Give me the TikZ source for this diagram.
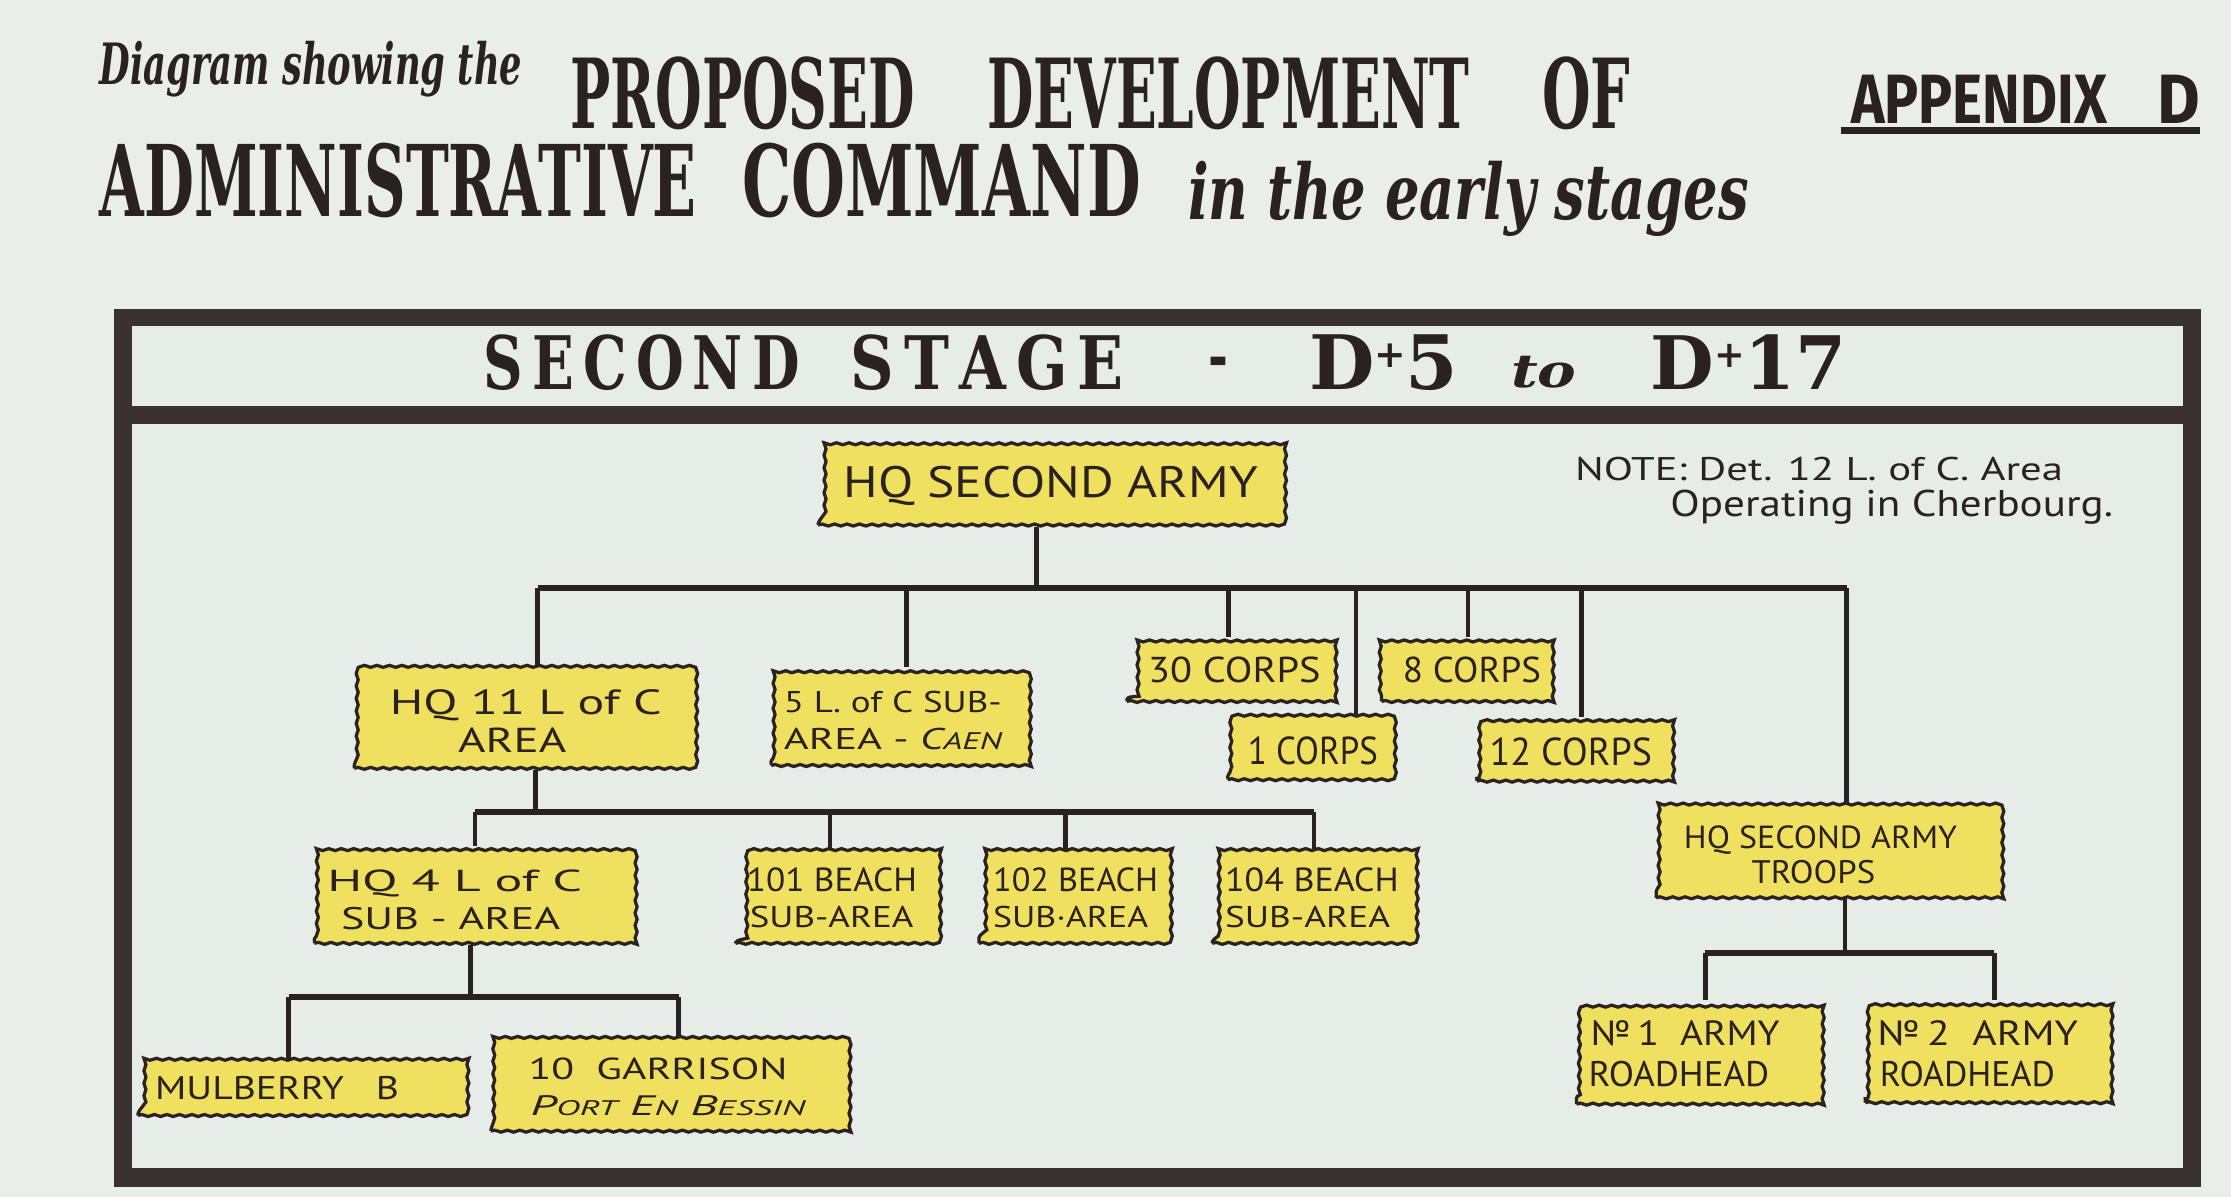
\documentclass[tikz,border=0pt]{standalone}
\usepackage{fontspec}
\usepackage{graphicx}
\usetikzlibrary{decorations.pathmorphing}
\setmainfont{DejaVu Serif}
\newfontfamily\slabf{DejaVu Serif}
\newfontfamily\handf{PT Sans}
\newfontfamily\apxf{Fira Sans}
\newlength{\pxu}
\setlength{\pxu}{0.02cm}
\newcommand{\fitt}[3]{\resizebox{#1\pxu}{#2\pxu}{#3}}
\definecolor{pagebg}{HTML}{EAEEE8}
\definecolor{innerbg}{HTML}{E6ECE8}
\definecolor{framec}{HTML}{3A3230}
\definecolor{inkc}{HTML}{2A2220}
\definecolor{yelc}{HTML}{F0E060}
\definecolor{boxline}{HTML}{2B2320}
\begin{document}
\begin{tikzpicture}[x=0.02cm,y=-0.02cm,
  txt/.style={inner sep=0pt, outer sep=0pt, text=inkc},
  bt/.style={txt, anchor=base, font=\handf},
  tt/.style={txt, anchor=base west},
  ybox/.style={draw=boxline, fill=yelc, line width=1.3pt, inner sep=0pt,
    decorate, decoration={snake, amplitude=0.4pt, segment length=5pt}},
  sz/.style 2 args={minimum width=#1*0.02cm, minimum height=#2*0.02cm},
  link/.style={draw=inkc, line width=1.9pt},
  busl/.style={draw=inkc, line width=2.4pt},
]
% page and frame
\fill[pagebg] (0,0) rectangle (1568,841);
\useasboundingbox (0,0) rectangle (1568,841);
\fill[framec] (80,217) rectangle (1547,834);
\fill[innerbg] (93,229) rectangle (1534,285);
\fill[innerbg] (93,298) rectangle (1534,821);

% heading
\node[tt] (tDiag) at (70,59.7) {\fitt{297}{30.4}{\slabf\bfseries\itshape Diagram showing the}};
\node[tt] (tProp) at (401,90.2) {\fitt{242}{50.4}{\slabf\bfseries PROPOSED}};
\node[tt] (tDev) at (694,90.2) {\fitt{339}{50.4}{\slabf\bfseries DEVELOPMENT}};
\node[tt] (tOf) at (1084,90.2) {\fitt{62}{50.4}{\slabf\bfseries OF}};
\node[tt] (tAdm) at (70,152.3) {\fitt{419.5}{51.6}{\slabf\bfseries ADMINISTRATIVE}};
\node[tt] (tCom) at (521.7,152.3) {\fitt{280}{51.6}{\slabf\bfseries COMMAND}};
\node[tt] (tEarly) at (835,154.6) {\fitt{394}{41}{\slabf\bfseries\itshape in the early stages}};
\node[tt] (tApp) at (1301,86.7) {\fitt{180}{34}{\apxf\bfseries APPENDIX}};
\node[tt] (tAppD) at (1516,86.7) {\fitt{30}{34}{\apxf\bfseries D}};
\coordinate (ulA) at (1294,92);
\coordinate (ulB) at (1546,92);
\draw[inkc, line width=2.8pt] (ulA) -- (ulB);

% band title
\node[txt, anchor=base] (sSec) at (451,274) {\fitt{222}{38.5}{\slabf\bfseries S\,E\,C\,O\,N\,D}};
\node[txt, anchor=base] (sSta) at (694,274) {\fitt{192}{38.5}{\slabf\bfseries S\,T\,A\,G\,E}};
\node[txt, anchor=base] (sDash) at (856,266) {\fitt{14}{15}{\slabf\bfseries -}};
\node[txt, anchor=base] (sD5) at (972.5,274) {\fitt{105}{38.5}{\slabf\bfseries D\raisebox{.3em}{\scalebox{.5}{+}}5}};
\node[txt, anchor=base] (sTo) at (1085,272) {\fitt{46}{22}{\slabf\bfseries\itshape to}};
\node[txt, anchor=base] (sD17) at (1229,274) {\fitt{138}{38.5}{\slabf\bfseries D\raisebox{.3em}{\scalebox{.5}{+}}17}};

% note
\node[tt] (nte1) at (1107,337.4) {\fitt{343}{16.4}{\handf NOTE: Det. 12 L. of C. Area}};
\node[tt] (nte2) at (1174,363) {\fitt{311}{18.6}{\handf Operating in Cherbourg.}};

% boxes
\node[ybox, sz={325}{56}] (hq) at (737.5,341) {};
\node[ybox, sz={237}{70}] (hq11) at (367.5,505) {};
\node[ybox, sz={179}{68}] (sub5) at (631.5,504) {};
\node[ybox, sz={144}{44}] (c30) at (864,471) {};
\node[ybox, sz={121}{44}] (c8) at (1031.5,471) {};
\node[ybox, sz={115}{44}] (c1) at (920.5,526) {};
\node[ybox, sz={137}{44}] (c12) at (1106.5,527) {};
\node[ybox, sz={243}{65}] (trp) at (1285.5,598.5) {};
\node[ybox, sz={224}{67}] (hq4) at (333,629.5) {};
\node[ybox, sz={140}{65}] (b101) at (587,630.5) {};
\node[ybox, sz={133}{65}] (b102) at (754.5,630.5) {};
\node[ybox, sz={142}{65}] (b104) at (923,630.5) {};
\node[ybox, sz={229}{38}] (mulb) at (211.5,765) {};
\node[ybox, sz={251}{64}] (gar) at (470.5,763) {};
\node[ybox, sz={170}{72}] (no1) at (1193,740) {};
\node[ybox, sz={172}{71}] (no2) at (1397,739.5) {};

% connectors level 1
\coordinate (s0) at (728.6,413);
\coordinate (d1) at (378,413);
\coordinate (d2) at (637,413);
\coordinate (d3) at (863.4,413);
\coordinate (d4) at (953,413);
\coordinate (d5) at (1031.7,413);
\coordinate (d6) at (1111.7,413);
\coordinate (d7) at (1298,413);
\draw[link] (hq.south -| s0) -- (s0);
\draw[busl] (d1) -- (d7);
\draw[link] (d1) -- (d1 |- hq11.north);
\draw[link] (d2) -- (d2 |- sub5.north);
\draw[link] (d3) -- (d3 |- c30.north);
\draw[link] (d4) -- (d4 |- c1.north);
\draw[link] (d5) -- (d5 |- c8.north);
\draw[link] (d6) -- (d6 |- c12.north);
\draw[link] (d7) -- (d7 |- trp.north);
% level 2
\coordinate (e0) at (376.5,571);
\coordinate (e1) at (333.8,571);
\coordinate (e2) at (583.4,571);
\coordinate (e3) at (749,571);
\coordinate (e4) at (923.5,571);
\draw[link] (hq11.south -| e0) -- (e0);
\draw[busl] (e1) -- (e4);
\draw[link] (e1) -- (e1 |- hq4.north);
\draw[link] (e2) -- (e2 |- b101.north);
\draw[link] (e3) -- (e3 |- b102.north);
\draw[link] (e4) -- (e4 |- b104.north);
% level 3
\coordinate (f0) at (330.7,701);
\coordinate (f1) at (203,701);
\coordinate (f2) at (477,701);
\draw[link] (hq4.south -| f0) -- (f0);
\draw[busl] (f1) -- (f2);
\draw[link] (f1) -- (f1 |- mulb.north);
\draw[link] (f2) -- (f2 |- gar.north);
% troops branch
\coordinate (g0) at (1296.7,670);
\coordinate (g1) at (1198.4,670);
\coordinate (g2) at (1401.5,670);
\draw[link] (trp.south -| g0) -- (g0);
\draw[busl] (g1) -- (g2);
\draw[link] (g1) -- (g1 |- no1.north);
\draw[link] (g2) -- (g2 |- no2.north);

% box texts
\node[bt] (hqT) at (738.5,350) {\fitt{291}{22}{HQ SECOND ARMY}};
\node[bt] (hq11a) at (369.5,502.5) {\fitt{191}{17.5}{HQ 11 L of C}};
\node[bt] (hq11b) at (360,529) {\fitt{76}{17.3}{AREA}};
\node[bt] (sub5a) at (627.5,501) {\fitt{153}{15}{5 L. of C SUB-}};
\node[bt] (sub5b) at (627.5,527) {\fitt{153}{15}{AREA - \textit{C\scalebox{.8}{AEN}}}};
\node[bt] (c30T) at (867.5,480) {\fitt{121}{18}{30 CORPS}};
\node[bt] (c8T) at (1034.5,480) {\fitt{97}{18}{8 CORPS}};
\node[bt] (c1T) at (922.7,537.5) {\fitt{91.5}{19.5}{1 CORPS}};
\node[bt] (c12T) at (1104,538) {\fitt{114}{19.5}{12 CORPS}};
\node[bt] (trpa) at (1279.5,596) {\fitt{192}{16}{HQ SECOND ARMY}};
\node[bt] (trpb) at (1274.5,620.8) {\fitt{87}{16.3}{TROOPS}};
\node[bt] (hq4a) at (319.5,626.7) {\fitt{179}{15.2}{HQ 4 L of C}};
\node[bt] (hq4b) at (316.7,653.6) {\fitt{154}{15.6}{SUB - AREA}};
\node[bt] (b101a) at (584.7,626.7) {\fitt{119.5}{16.7}{101 BEACH}};
\node[bt] (b101b) at (584.5,652) {\fitt{115}{15}{SUB-AREA}};
\node[bt] (b102a) at (756,626.7) {\fitt{116}{16.7}{102 BEACH}};
\node[bt] (b102b) at (752.5,652) {\fitt{109}{15}{SUB·AREA}};
\node[bt] (b104a) at (922,626.7) {\fitt{122}{16.7}{104 BEACH}};
\node[bt] (b104b) at (919,652) {\fitt{116}{15}{SUB-AREA}};
\node[bt] (mulbT) at (194.7,773) {\fitt{171.4}{16.3}{MULBERRY\ \ \ B}};
\node[bt] (gara) at (462.5,759) {\fitt{182}{15.2}{10\ \ GARRISON}};
\node[bt] (garb) at (469.5,783.7) {\fitt{193}{14}{\itshape P\scalebox{.75}{ORT} E\scalebox{.75}{N} B\scalebox{.75}{ESSIN}}};
\node[bt] (no1a) at (1184.4,734.5) {\fitt{132.8}{17.5}{№\,1\ \ ARMY}};
\node[bt] (no1b) at (1180,763.8) {\fitt{127}{17.8}{ROADHEAD}};
\node[bt] (no2a) at (1390,734.5) {\fitt{141}{17.5}{№\,2\ \ ARMY}};
\node[bt] (no2b) at (1382.7,763.8) {\fitt{123}{17.8}{ROADHEAD}};
\end{tikzpicture}
\end{document}
